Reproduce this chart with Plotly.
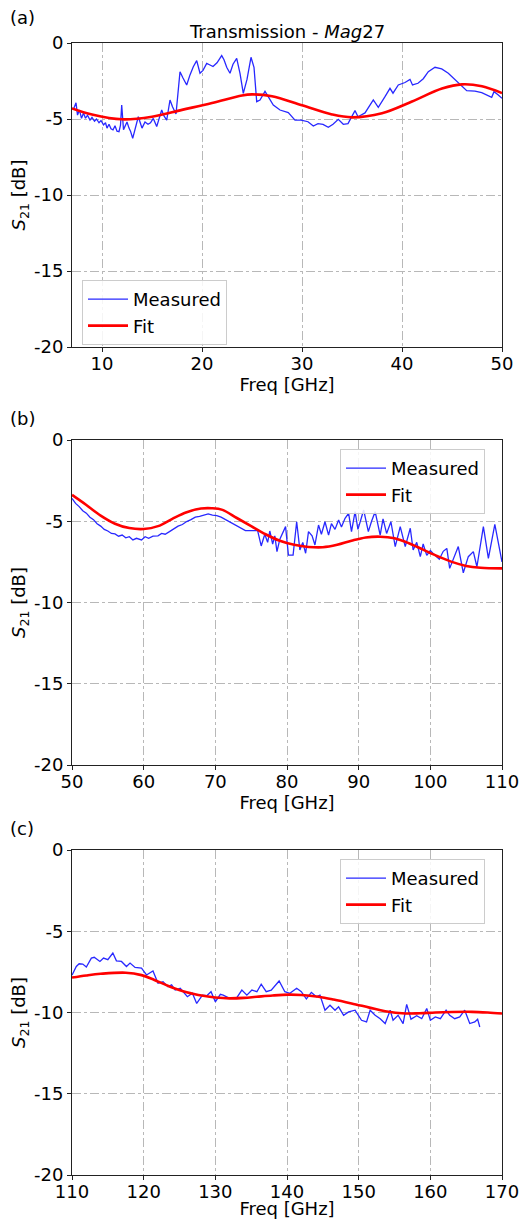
import plotly.graph_objects as go

# ---------------- data ----------------
# Panel (a): 7-50 GHz
meas_a_f = [7.0, 7.15, 7.4, 7.55, 7.75, 7.95, 8.15, 8.35, 8.55, 8.8, 9.0, 9.25, 9.45, 9.7, 9.9,
            10.15, 10.35, 10.5, 10.7, 10.9, 11.1, 11.3, 11.5, 11.7, 11.85, 11.97, 12.15, 12.3, 12.5,
            12.7, 12.85, 13.07, 13.3, 13.63, 13.85, 14.0, 14.3, 14.6, 14.85, 15.13, 15.47, 15.75,
            15.97, 16.2, 16.47, 16.8, 17.05, 17.4, 17.8, 18.1, 18.47, 18.8, 19.13, 19.47, 19.8,
            20.1, 20.47, 20.8, 21.1, 21.5, 21.97, 22.2, 22.47, 22.8, 23.1, 23.47, 23.8, 24.13,
            24.5, 24.9, 25.2, 25.47, 25.8, 26.3, 26.65, 27.13, 27.8, 28.63, 29.3, 29.9, 30.6,
            31.13, 31.6, 32.1, 32.63, 33.1, 33.63, 34.13, 34.6, 35.3, 35.6, 36.3, 37.13, 37.63,
            38.3, 38.8, 39.1, 39.63, 40.3, 40.8, 41.05, 41.6, 42.13, 42.63, 43.3, 43.97, 44.63,
            45.3, 45.97, 46.47, 47.3, 47.97, 48.97, 49.2, 49.6, 50.0]
meas_a_db = [-4.3, -4.35, -3.93, -4.74, -4.41, -4.96, -4.6, -4.95, -4.75, -5.07, -4.9, -5.15, -5.0,
             -5.25, -5.1, -5.39, -5.25, -5.6, -5.35, -5.65, -5.72, -5.45, -5.8, -5.83, -5.4, -4.08,
             -5.7, -5.5, -5.2, -5.6, -5.8, -6.27, -5.7, -4.85, -5.3, -5.6, -5.2, -5.35, -5.25,
             -4.96, -5.5, -4.9, -4.41, -4.8, -5.07, -3.75, -4.2, -4.67, -1.89, -2.3, -2.76, -2.1,
             -1.56, -1.16, -1.99, -1.8, -1.34, -1.45, -1.55, -1.3, -0.83, -1.1, -1.6, -1.99, -1.4,
             -1.01, -2.0, -3.31, -2.4, -0.94, -1.6, -3.86, -3.75, -3.18, -3.6, -4.08, -4.41, -4.58,
             -5.07, -5.07, -5.18, -5.46, -5.3, -5.35, -5.55, -5.35, -5.02, -5.35, -5.3, -4.45,
             -4.85, -4.6, -3.75, -4.23, -3.53, -2.98, -3.3, -2.76, -2.6, -2.39, -2.76, -2.65,
             -2.35, -1.89, -1.6, -1.7, -1.99, -2.43, -2.87, -3.14, -3.16, -3.27, -3.57, -3.2,
             -3.4, -3.64]
fit_a_f = [7, 9, 12, 15, 18, 21, 24, 25, 27, 30, 33, 35, 38, 41, 44, 46, 48, 50]
fit_a_db = [-4.3, -4.7, -5.02, -4.85, -4.4, -3.95, -3.45, -3.38, -3.5, -4.1, -4.7, -4.89, -4.62,
            -3.85, -3.0, -2.72, -2.85, -3.3]

# Panel (b): 50-110 GHz
meas_b_f = [50.0, 50.5, 51.0, 51.5, 52.0, 52.5, 53.0, 53.5, 54.0, 54.5, 55.0, 55.5, 56.0, 56.5,
            57.0, 57.5, 58.0, 58.5, 59.0, 59.7, 60.2, 60.7, 61.3, 62.0, 62.5, 63.0, 63.6, 64.2,
            64.8, 65.4, 66.0, 66.6, 67.2, 67.8, 68.4, 69.0, 69.6, 70.2, 70.8, 71.4, 72.0, 72.6,
            73.2, 73.8, 74.2, 75.9, 76.4, 76.9, 77.3, 77.6, 78.0, 78.3, 78.6, 79.0, 79.8, 80.2,
            80.85, 81.35, 81.8, 82.2, 82.6, 83.0, 83.5, 83.9, 84.4, 84.8, 85.3, 85.8, 86.2, 86.7,
            87.2, 87.6, 88.1, 88.6, 89.0, 89.5, 89.9, 90.7, 91.35, 91.8, 92.3, 93.0, 93.4, 93.9,
            94.5, 95.1, 95.8, 96.5, 97.2, 97.6, 98.1, 98.6, 99.0, 99.5, 100.0, 100.65, 101.25,
            101.8, 102.3, 102.7, 103.4, 103.9, 104.6, 105.3, 106.0, 106.5, 107.4, 108.1, 109.0,
            109.9, 110.0]
meas_b_db = [-3.6, -3.9, -4.1, -4.35, -4.5, -4.75, -4.9, -5.15, -5.3, -5.5, -5.6, -5.75, -5.78,
             -5.92, -5.85, -6.02, -5.95, -6.15, -6.05, -6.15, -5.95, -6.05, -5.92, -5.9, -5.75,
             -5.8, -5.64, -5.45, -5.3, -5.2, -5.02, -4.9, -4.75, -4.7, -4.62, -4.55, -4.62, -4.65,
             -4.75, -4.9, -5.0, -5.15, -5.3, -5.45, -5.58, -5.58, -6.52, -5.8, -6.3, -5.6, -6.4,
             -5.9, -6.87, -6.1, -5.33, -7.08, -7.08, -5.03, -6.77, -6.3, -6.97, -5.64, -5.9, -6.46,
             -5.23, -5.8, -5.03, -5.85, -5.15, -5.5, -4.92, -5.35, -4.82, -4.51, -5.64, -4.41,
             -5.5, -4.31, -5.64, -5.0, -4.41, -5.85, -4.85, -5.75, -5.03, -6.56, -5.33, -6.56,
             -5.43, -6.77, -6.3, -7.18, -6.4, -7.1, -6.8, -7.1, -7.34, -6.85, -6.67, -7.9, -7.18,
             -6.56, -8.17, -7.18, -6.87, -7.8, -5.33, -7.28, -5.19, -7.18, -7.5]
fit_b_f = [50, 52, 54, 56, 58, 60, 62, 64, 66, 68, 69.5, 71, 73, 75, 77, 79, 81, 83, 85, 87, 89,
           91, 93, 95, 97, 99, 101, 103, 105, 107, 110]
fit_b_db = [-3.38, -4.0, -4.65, -5.15, -5.42, -5.48, -5.3, -4.85, -4.45, -4.22, -4.2, -4.3, -4.8,
            -5.3, -5.8, -6.2, -6.45, -6.58, -6.6, -6.45, -6.2, -6.0, -5.95, -6.05, -6.35, -6.75,
            -7.15, -7.5, -7.75, -7.86, -7.9]

# Panel (c): 110-170 GHz
meas_c_f = [110.0, 110.6, 111.0, 111.5, 112.0, 112.7, 113.1, 113.9, 114.4, 115.0, 115.7, 116.2,
            116.9, 117.6, 118.1, 118.8, 119.7, 120.4, 121.3, 122.0, 122.7, 123.4, 123.9, 124.4,
            125.1, 126.1, 126.8, 127.4, 128.2, 128.8, 129.4, 130.0, 130.7, 131.1, 132.0, 133.0,
            133.7, 134.4, 135.1, 135.8, 136.4, 137.1, 137.8, 138.9, 139.7, 140.4, 141.35, 142.0,
            142.7, 143.4, 144.1, 144.6, 145.3, 146.0, 146.7, 147.2, 147.9, 148.6, 149.5, 150.4,
            151.1, 151.6, 152.3, 153.0, 153.7, 154.4, 154.8, 155.5, 156.2, 156.7, 157.3, 158.1,
            158.8, 159.5, 160.0, 160.7, 161.4, 162.2, 162.7, 163.4, 164.1, 164.8, 165.5, 166.2,
            166.6, 166.9]
meas_c_db = [-7.7, -7.17, -7.0, -7.02, -7.2, -6.65, -6.6, -6.86, -6.65, -6.75, -6.34, -6.82,
             -6.86, -7.17, -6.96, -7.23, -7.27, -7.69, -7.44, -8.2, -8.1, -8.41, -8.3, -8.62,
             -8.51, -9.03, -8.82, -9.44, -8.93, -8.97, -8.72, -9.34, -8.88, -8.93, -9.13, -9.09,
             -8.62, -8.93, -8.62, -8.72, -8.26, -8.72, -8.62, -8.06, -8.72, -8.82, -8.51, -8.72,
             -9.17, -8.76, -9.03, -8.93, -9.86, -9.55, -9.86, -9.65, -10.17, -9.96, -9.86, -10.48,
             -10.58, -9.86, -10.17, -10.38, -10.68, -9.86, -10.48, -10.17, -10.68, -9.5, -10.41,
             -10.2, -10.38, -9.75, -10.48, -10.27, -10.38, -9.86, -10.17, -10.38, -10.27, -9.86,
             -10.68, -10.58, -10.41, -10.89]
fit_c_f = [110, 112, 114, 117.5, 119.7, 121.5, 123.7, 126, 128.3, 130, 132, 134, 135.8, 138,
           140.2, 142, 144.4, 146.5, 149, 151.5, 153.7, 156.5, 158.5, 160.7, 163, 165.8, 168, 170]
fit_c_db = [-7.85, -7.72, -7.62, -7.55, -7.7, -8.0, -8.41, -8.75, -8.97, -9.08, -9.13, -9.1,
            -9.03, -8.95, -8.9, -8.92, -9.03, -9.2, -9.44, -9.7, -9.92, -10.06, -10.05, -10.0,
            -9.97, -9.96, -10.0, -10.06]

y_tickvals = [0, -5, -10, -15, -20]
y_ticktext = ["0", "-5", "-10", "-15", "-20"]
x_ticks_a = [10, 20, 30, 40, 50]
x_ticks_b = [50, 60, 70, 80, 90, 100, 110]
x_ticks_c = [110, 120, 130, 140, 150, 160, 170]

# ---------------- layout ----------------
W, H = 519, 1219
FONT = "DejaVu Sans"
FS = 18
x_dom = [72 / W, 502 / W]
panels = [
    (43, 347, [7, 50], x_ticks_a, "legend"),
    (440, 765, [50, 110], x_ticks_b, "legend2"),
    (850, 1175, [110, 170], x_ticks_c, "legend3"),
]
data_sets = [
    (meas_a_f, meas_a_db, fit_a_f, fit_a_db),
    (meas_b_f, meas_b_db, fit_b_f, fit_b_db),
    (meas_c_f, meas_c_db, fit_c_f, fit_c_db),
]

fig = go.Figure()
layout = dict(
    width=W, height=H,
    margin=dict(l=0, r=0, t=0, b=0, autoexpand=False),
    paper_bgcolor="white", plot_bgcolor="white",
    font=dict(family=FONT, size=FS, color="black"),
    showlegend=True,
)

for i, ((ytop, ybot, xr, xt, leg), (mf, md, ff, fd)) in enumerate(zip(panels, data_sets)):
    n = "" if i == 0 else str(i + 1)
    xa, ya = "x" + n, "y" + n
    fig.add_trace(go.Scatter(x=mf, y=md, mode="lines", name="Measured",
                             line=dict(color="rgb(40,40,255)", width=1.3),
                             xaxis=xa, yaxis=ya, legend=leg))
    fig.add_trace(go.Scatter(x=ff, y=fd, mode="lines", name="Fit",
                             line=dict(color="rgb(255,0,0)", width=2.6, shape="spline", smoothing=1.0),
                             xaxis=xa, yaxis=ya, legend=leg))
    common = dict(showline=True, linecolor="#222", linewidth=1, mirror=True,
                  ticks="outside", ticklen=4, tickwidth=1, tickcolor="#222",
                  showgrid=True, gridcolor="#b8b8b8", gridwidth=1, griddash="dashdot",
                  zeroline=False, automargin=False, ticklabeloverflow="allow",
                  tickfont=dict(family=FONT, size=FS, color="black"))
    layout["xaxis" + n] = dict(common, domain=x_dom, range=xr, tickvals=xt,
                               anchor=ya, ticklabelstandoff=-4,
                               title=dict(text="Freq [GHz]", standoff=0,
                                          font=dict(family=FONT, size=FS)))
    layout["yaxis" + n] = dict(common, domain=[1 - ybot / H, 1 - ytop / H], range=[-20, 0],
                               tickvals=y_tickvals, ticktext=y_ticktext, anchor=xa,
                               title=dict(text="<i>S</i><sub>21</sub> [dB]", standoff=3,
                                          font=dict(family=FONT, size=FS)))

leg_common = dict(bgcolor="rgba(255,255,255,0.85)", bordercolor="#cccccc", borderwidth=1,
                  font=dict(family=FONT, size=FS), xanchor="left", yanchor="top",
                  itemwidth=40, tracegroupgap=0)
layout["legend"] = dict(leg_common, x=82 / W, y=1 - 280 / H)
layout["legend2"] = dict(leg_common, x=340 / W, y=1 - 449 / H)
layout["legend3"] = dict(leg_common, x=340 / W, y=1 - 859 / H)

annotations = [
    dict(text="Transmission - <i>Mag</i>27", x=287 / W, y=1 - 31 / H, xref="paper", yref="paper",
         showarrow=False, xanchor="center", yanchor="middle", font=dict(family=FONT, size=FS)),
]
for lab, ypx in [("(a)", 17), ("(b)", 418), ("(c)", 828)]:
    annotations.append(dict(text=lab, x=8 / W, y=1 - ypx / H, xref="paper", yref="paper",
                            showarrow=False, xanchor="left", yanchor="middle",
                            font=dict(family=FONT, size=FS)))
layout["annotations"] = annotations

fig.update_layout(**layout)
fig.write_html("out.html", config={"displayModeBar": False},
               post_script="document.body.style.margin='0';document.body.style.padding='0';"
                           "document.body.style.overflow='hidden';")
